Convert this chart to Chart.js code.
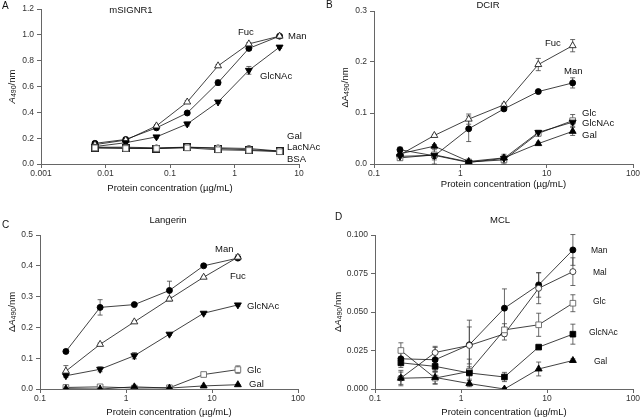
<!DOCTYPE html>
<html lang="en">
<head>
<meta charset="UTF-8">
<title>Lectin binding curves</title>
<style>
  body { margin: 0; background: #fff; }
  #wrap { position: relative; width: 644px; height: 419px; }
  #wrap canvas { position: absolute; left: 0; top: 0; }
</style>
</head>
<body>
<div id="wrap">
  <canvas id="chartA" width="644" height="419"></canvas>
  <canvas id="chartB" width="644" height="419"></canvas>
  <canvas id="chartC" width="644" height="419"></canvas>
  <canvas id="chartD" width="644" height="419"></canvas>
</div>
<script src="https://cdn.jsdelivr.net/npm/chart.js"></script>
<script>
// ---- data ----
const concA = [0.00686, 0.0206, 0.0617, 0.185, 0.556, 1.67, 5];
const conc = [0.2, 0.5, 1.25, 3.2, 8, 20];
const xTicksA = [0.001, 0.01, 0.1, 1, 10];
const xTicks = [0.1, 1, 10, 100];
const yTicksA = [0, 0.2, 0.4, 0.6, 0.8, 1.0, 1.2];
const yTicksB = [0, 0.1, 0.2, 0.3];
const yTicksC = [0, 0.1, 0.2, 0.3, 0.4, 0.5];
const yTicksD = [0, 0.025, 0.05, 0.075, 0.1];

// A: mSIGNR1
const aMan = [0.16, 0.19, 0.28, 0.395, 0.63, 0.895, 0.99];
const aManErr = [0.01, 0.01, 0.015, 0.01, 0.02, 0.015, 0.01];
const aFuc = [0.15, 0.185, 0.295, 0.48, 0.76, 0.93, 0.99];
const aFucErr = [0.005, 0.005, 0.01, 0.01, 0.01, 0.01, 0.01];
const aGlcNAc = [0.135, 0.165, 0.21, 0.31, 0.48, 0.725, 0.905];
const aGlcNAcErr = [0.005, 0.01, 0.01, 0.015, 0.01, 0.03, 0.01];
const aGal = [0.13, 0.13, 0.125, 0.13, 0.125, 0.12, 0.10];
const aLacNAc = [0.125, 0.125, 0.12, 0.13, 0.12, 0.11, 0.10];
const aBSA = [0.125, 0.12, 0.12, 0.125, 0.11, 0.105, 0.095];
const aLowErr = [0.008, 0.008, 0.008, 0.01, 0.01, 0.01, 0.008];

// B: DCIR
const bFuc = [0.018, 0.056, 0.088, 0.116, 0.195, 0.232];
const bFucErr = [0.003, 0.002, 0.01, 0.003, 0.012, 0.012];
const bMan = [0.028, 0.016, 0.069, 0.108, 0.142, 0.159];
const bManErr = [0.005, 0.017, 0.025, 0.003, 0.003, 0.01];
const bGlc = [0.012, 0.018, 0.004, 0.008, 0.06, 0.085];
const bGlcErr = [0.005, 0.01, 0.003, 0.008, 0.005, 0.012];
const bGlcNAc = [0.015, 0.017, 0.003, 0.011, 0.062, 0.082];
const bGlcNAcErr = [0.005, 0.005, 0.002, 0.008, 0.004, 0.005];
const bGal = [0.02, 0.035, 0.005, 0.012, 0.04, 0.064];
const bGalErr = [0.003, 0.003, 0.002, 0.003, 0.003, 0.008];

// C: Langerin
const cMan = [0.122, 0.265, 0.274, 0.32, 0.40, 0.425];
const cManErr = [0.005, 0.025, 0.003, 0.03, 0.003, 0.005];
const cFuc = [0.058, 0.145, 0.218, 0.292, 0.363, 0.428];
const cFucErr = [0.018, 0.004, 0.003, 0.006, 0.003, 0.008];
const cGlcNAc = [0.043, 0.064, 0.108, 0.178, 0.246, 0.273];
const cGlcNAcErr = [0.005, 0.008, 0.01, 0.004, 0.004, 0.004];
const cGlc = [0.005, 0.007, 0.003, 0.004, 0.047, 0.063];
const cGlcErr = [0.002, 0.002, 0.002, 0.002, 0.003, 0.012];
const cGal = [0.001, 0.0, 0.007, 0.003, 0.01, 0.014];
const cGalErr = [0.001, 0.001, 0.002, 0.001, 0.001, 0.001];

// D: MCL
const dMan = [0.0196, 0.019, 0.0287, 0.0525, 0.0676, 0.0903];
const dManErr = [0.004, 0.008, 0.016, 0.0125, 0.008, 0.01];
const dMal = [0.0071, 0.0237, 0.0283, 0.0358, 0.0654, 0.0762];
const dMalErr = [0.005, 0.004, 0.012, 0.004, 0.01, 0.009];
const dGlc = [0.025, 0.0071, 0.0114, 0.0384, 0.0417, 0.0557];
const dGlcErr = [0.005, 0.004, 0.008, 0.004, 0.0075, 0.0055];
const dGlcNAc = [0.017, 0.0147, 0.0104, 0.0078, 0.0272, 0.0356];
const dGlcNAcErr = [0.003, 0.003, 0.004, 0.003, 0.001, 0.0065];
const dGal = [0.007, 0.0075, 0.0035, 0.0, 0.013, 0.0185];
const dGalErr = [0.004, 0.004, 0.002, 0.001, 0.0045, 0.001];

// ---- styles ----
const FONT = '"Liberation Sans", Arial, sans-serif';
const W = 644, H = 419, Y_W = 40, X_H = 16;

// square with a cross, for LacNAc
function crossedSquare() {
  const c = document.createElement('canvas');
  c.width = 8; c.height = 8;
  const g = c.getContext('2d');
  g.strokeStyle = '#222'; g.lineWidth = 1;
  g.fillStyle = '#fff';
  g.fillRect(0.5, 0.5, 7, 7);
  g.strokeRect(0.5, 0.5, 7, 7);
  g.beginPath();
  g.moveTo(1, 1); g.lineTo(7, 7); g.moveTo(7, 1); g.lineTo(1, 7);
  g.stroke();
  return c;
}

const mk = {
  fillCircle: { pointStyle: 'circle', pointRadius: 3, pointBackgroundColor: '#000', pointBorderColor: '#000' },
  openCircle: { pointStyle: 'circle', pointRadius: 3, pointBackgroundColor: '#fff', pointBorderColor: '#333' },
  openTri: { pointStyle: 'triangle', pointRadius: 4, pointBackgroundColor: '#fff', pointBorderColor: '#222' },
  fillTri: { pointStyle: 'triangle', pointRadius: 4, pointBackgroundColor: '#000', pointBorderColor: '#000' },
  fillTriDown: { pointStyle: 'triangle', pointRadius: 4, pointRotation: 180, pointBackgroundColor: '#000', pointBorderColor: '#000' },
  openSquare: { pointStyle: 'rect', pointRadius: 4, pointBackgroundColor: '#fff', pointBorderColor: '#666' },
  fillSquare: { pointStyle: 'rect', pointRadius: 4, pointBackgroundColor: '#000', pointBorderColor: '#000' },
  crossSquare: { pointStyle: crossedSquare(), pointRadius: 4 }
};

function series(xs, ys, errs, marker) {
  return Object.assign({
    data: xs.map((x, i) => ({ x: x, y: ys[i] })),
    errors: errs,
    borderColor: '#111',
    borderWidth: 0.8,
    pointBorderWidth: 0.9,
    showLine: true,
    tension: 0
  }, marker);
}

// error bars through the chart's own scales
const errorBars = {
  id: 'errorBars',
  beforeDatasetsDraw(chart) {
    const ctx = chart.ctx, xs = chart.scales.x, ys = chart.scales.y;
    ctx.save();
    ctx.strokeStyle = '#444';
    ctx.lineWidth = 0.8;
    chart.data.datasets.forEach(ds => {
      if (!ds.errors) return;
      ds.data.forEach((p, i) => {
        const e = ds.errors[i];
        if (!e) return;
        const x = xs.getPixelForValue(p.x);
        const y1 = ys.getPixelForValue(Math.max(p.y - e, ys.min));
        const y2 = ys.getPixelForValue(p.y + e);
        ctx.beginPath();
        ctx.moveTo(x, y1); ctx.lineTo(x, y2);
        ctx.moveTo(x - 2.5, y1); ctx.lineTo(x + 2.5, y1);
        ctx.moveTo(x - 2.5, y2); ctx.lineTo(x + 2.5, y2);
        ctx.stroke();
      });
    });
    ctx.restore();
  }
};

function drawYTitle(ctx, parts, x, yc) {
  const fonts = { n: '9.5px ' + FONT, i: 'italic 9.5px ' + FONT, s: '7px ' + FONT };
  let total = 0;
  parts.forEach(p => { ctx.font = fonts[p[1]]; total += ctx.measureText(p[0]).width; });
  ctx.save();
  ctx.translate(x, yc);
  ctx.rotate(-Math.PI / 2);
  ctx.textBaseline = 'middle';
  ctx.textAlign = 'left';
  let cx = -total / 2;
  parts.forEach(p => {
    ctx.font = fonts[p[1]];
    ctx.fillText(p[0], cx, p[1] === 's' ? 2.5 : 0);
    cx += ctx.measureText(p[0]).width;
  });
  ctx.restore();
}

const texts = {
  id: 'texts',
  afterDraw(chart, args, opts) {
    const ctx = chart.ctx, a = chart.chartArea;
    ctx.save();
    ctx.fillStyle = '#111';
    ctx.textBaseline = 'middle';
    ctx.font = '10px ' + FONT;
    ctx.textAlign = 'left';
    ctx.fillText(opts.letter[0], opts.letter[1], opts.letter[2]);
    ctx.font = '9.5px ' + FONT;
    ctx.textAlign = 'center';
    ctx.fillText(opts.title[0], opts.title[1], opts.title[2]);
    ctx.fillText('Protein concentration (\u00b5g/mL)', (a.left + a.right) / 2, opts.xTitleY);
    drawYTitle(ctx, opts.yTitle, opts.yTitleX, (a.top + a.bottom) / 2);
    ctx.textAlign = 'left';
    ctx.font = opts.labelFont + 'px ' + FONT;
    opts.labels.forEach(l => ctx.fillText(l[0], l[1], l[2]));
    ctx.restore();
  }
};

function makeChart(id, p) {
  const axisColor = '#666';
  new Chart(document.getElementById(id), {
    type: 'scatter',
    data: { datasets: p.datasets },
    plugins: [errorBars, texts],
    options: {
      responsive: false,
      animation: false,
      devicePixelRatio: 1,
      layout: { padding: { left: p.area.l - Y_W, right: W - p.area.r, top: p.area.t, bottom: H - p.area.b - X_H } },
      plugins: { legend: { display: false }, tooltip: { enabled: false }, texts: p.texts },
      scales: {
        x: {
          type: 'logarithmic',
          min: p.xTicks[0], max: p.xTicks[p.xTicks.length - 1],
          afterBuildTicks: s => { s.ticks = p.xTicks.map(v => ({ value: v })); },
          afterFit: s => { s.height = X_H; },
          ticks: { callback: v => String(v), font: { family: FONT, size: 8.5 }, color: '#333', padding: 1, maxRotation: 0, autoSkip: false },
          grid: { drawOnChartArea: false, tickLength: 4, color: axisColor },
          border: { color: axisColor, width: 1 }
        },
        y: {
          min: 0, max: p.yTicks[p.yTicks.length - 1],
          afterBuildTicks: s => { s.ticks = p.yTicks.map(v => ({ value: v })); },
          afterFit: s => { s.width = Y_W; },
          ticks: { callback: v => v.toFixed(p.yDec), font: { family: FONT, size: 8.5 }, color: '#333', padding: 3 },
          grid: { drawOnChartArea: false, tickLength: 4, color: axisColor },
          border: { color: axisColor, width: 1 }
        }
      }
    }
  });
}

makeChart('chartA', {
  area: { l: 41, r: 299, t: 9, b: 164 },
  xTicks: xTicksA, yTicks: yTicksA, yDec: 1,
  datasets: [
    series(concA, aBSA, aLowErr, mk.openSquare),
    series(concA, aLacNAc, aLowErr, mk.crossSquare),
    series(concA, aGal, aLowErr, mk.openCircle),
    series(concA, aGlcNAc, aGlcNAcErr, mk.fillTriDown),
    series(concA, aFuc, aFucErr, mk.openTri),
    series(concA, aMan, aManErr, mk.fillCircle)
  ],
  texts: {
    letter: ['A', 2, 6], title: ['mSIGNR1', 131, 10],
    xTitleY: 188, yTitleX: 12, yTitle: [['A', 'i'], ['490', 's'], ['/nm', 'n']],
    labelFont: 9.5,
    labels: [['Fuc', 238, 32], ['Man', 288, 36], ['GlcNAc', 260, 76], ['Gal', 287, 136], ['LacNAc', 287, 147], ['BSA', 287, 159]]
  }
});

makeChart('chartB', {
  area: { l: 374, r: 633, t: 11, b: 164 },
  xTicks: xTicks, yTicks: yTicksB, yDec: 1,
  datasets: [
    series(conc, bGal, bGalErr, mk.fillTri),
    series(conc, bGlcNAc, bGlcNAcErr, mk.fillTriDown),
    series(conc, bGlc, bGlcErr, mk.openSquare),
    series(conc, bMan, bManErr, mk.fillCircle),
    series(conc, bFuc, bFucErr, mk.openTri)
  ],
  texts: {
    letter: ['B', 326, 5], title: ['DCIR', 488, 5],
    xTitleY: 184, yTitleX: 345, yTitle: [['\u0394A', 'n'], ['490', 's'], ['/nm', 'n']],
    labelFont: 9.5,
    labels: [['Fuc', 545, 43], ['Man', 564, 71], ['Glc', 582, 113], ['GlcNAc', 582, 123], ['Gal', 582, 135]]
  }
});

makeChart('chartC', {
  area: { l: 40, r: 298, t: 235, b: 389 },
  xTicks: xTicks, yTicks: yTicksC, yDec: 1,
  datasets: [
    series(conc, cGal, cGalErr, mk.fillTri),
    series(conc, cGlc, cGlcErr, mk.openSquare),
    series(conc, cGlcNAc, cGlcNAcErr, mk.fillTriDown),
    series(conc, cFuc, cFucErr, mk.openTri),
    series(conc, cMan, cManErr, mk.fillCircle)
  ],
  texts: {
    letter: ['C', 2, 225], title: ['Langerin', 168, 220],
    xTitleY: 412, yTitleX: 12, yTitle: [['\u0394', 'n'], ['A', 'i'], ['490', 's'], ['/nm', 'n']],
    labelFont: 9.5,
    labels: [['Man', 215, 249], ['Fuc', 230, 276], ['GlcNAc', 247, 306], ['Glc', 247, 370], ['Gal', 249, 384]]
  }
});

makeChart('chartD', {
  area: { l: 375, r: 633, t: 235, b: 389 },
  xTicks: xTicks, yTicks: yTicksD, yDec: 3,
  datasets: [
    series(conc, dGal, dGalErr, mk.fillTri),
    series(conc, dGlcNAc, dGlcNAcErr, mk.fillSquare),
    series(conc, dGlc, dGlcErr, mk.openSquare),
    series(conc, dMal, dMalErr, mk.openCircle),
    series(conc, dMan, dManErr, mk.fillCircle)
  ],
  texts: {
    letter: ['D', 335, 217], title: ['MCL', 500, 220],
    xTitleY: 412, yTitleX: 338, yTitle: [['\u0394', 'n'], ['A', 'i'], ['490', 's'], ['/nm', 'n']],
    labelFont: 8.5,
    labels: [['Man', 591, 251], ['Mal', 593, 273], ['Glc', 593, 302], ['GlcNAc', 589, 333], ['Gal', 594, 362]]
  }
});
</script>
</body>
</html>
